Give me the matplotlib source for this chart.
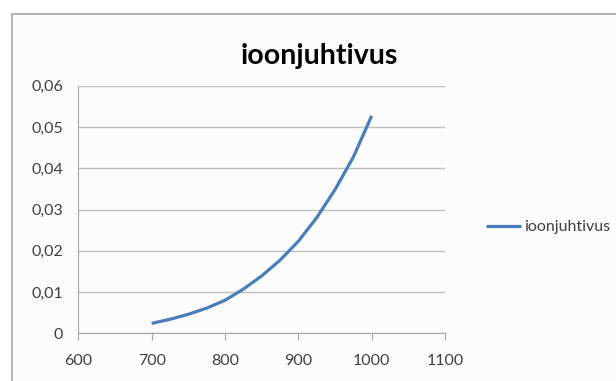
import matplotlib
matplotlib.use("Agg")
import matplotlib.pyplot as plt
from matplotlib.patches import Rectangle
from matplotlib.ticker import FuncFormatter

plt.rcParams['font.family'] = ['Lato', 'DejaVu Sans']

# values
temp = [700, 725, 750, 775, 800, 825, 850, 875, 900, 925, 950, 975, 1000]
sigma = [0.0024, 0.0034, 0.0046, 0.0061, 0.0080, 0.0107, 0.0139,
         0.0177, 0.0223, 0.0280, 0.0348, 0.0427, 0.0527]
x_ticks = [600, 700, 800, 900, 1000, 1100]
y_ticks = [0, 0.01, 0.02, 0.03, 0.04, 0.05, 0.06]
series_name = "ioonjuhtivus"

W, H = 616, 381
fig = plt.figure(figsize=(W / 100, H / 100), dpi=100)
fig.patch.set_facecolor("white")

# chart area frame (Excel style), runs off the right/bottom edge
fig.patches.append(Rectangle((12 / W, -0.05), 1.0, 1 - 14 / H + 0.05,
                             transform=fig.transFigure, facecolor="#fcfcfc",
                             edgecolor="#a6a6a6", linewidth=1.2, zorder=-5))

ax = fig.add_axes([78.3 / W, 1 - 333.3 / H, (445 - 78.3) / W, (333.3 - 85.7) / H])
ax.set_facecolor("none")
ax.plot(temp, sigma, color="#4a7ebb", linewidth=2.3, label=series_name,
        solid_capstyle="butt", solid_joinstyle="round")

ax.set_xlim(600, 1100)
ax.set_ylim(0, 0.06)
ax.set_xticks(x_ticks)
ax.set_yticks(y_ticks)


def comma(v, pos):
    if v == 0:
        return "0"
    return ("%.2f" % v).replace(".", ",")


ax.yaxis.set_major_formatter(FuncFormatter(comma))
ax.grid(axis="y", color="#bfbfbf", linewidth=1.0)
ax.set_axisbelow(True)
for s in ["top", "right"]:
    ax.spines[s].set_visible(False)
ax.spines["left"].set_color("#a6a6a6")
ax.spines["bottom"].set_color("#a6a6a6")
ax.tick_params(axis="y", length=0, pad=11, labelsize=11.5, labelcolor="#404040")
ax.tick_params(axis="x", length=5, color="#a6a6a6", pad=10, labelsize=11.5,
               labelcolor="#404040")

fig.text(319.7 / W, 1 - 56 / H, series_name, ha="center", va="center",
         fontsize=20.5, fontweight="bold", color="black")

ax.legend(loc="center left", bbox_to_anchor=(486 / W, 1 - 227 / H),
          bbox_transform=fig.transFigure, frameon=False, fontsize=11.5,
          handlelength=2.2, handletextpad=0.2, borderpad=0, borderaxespad=0,
          labelcolor="#404040")

fig.savefig("out.png", dpi=100)
